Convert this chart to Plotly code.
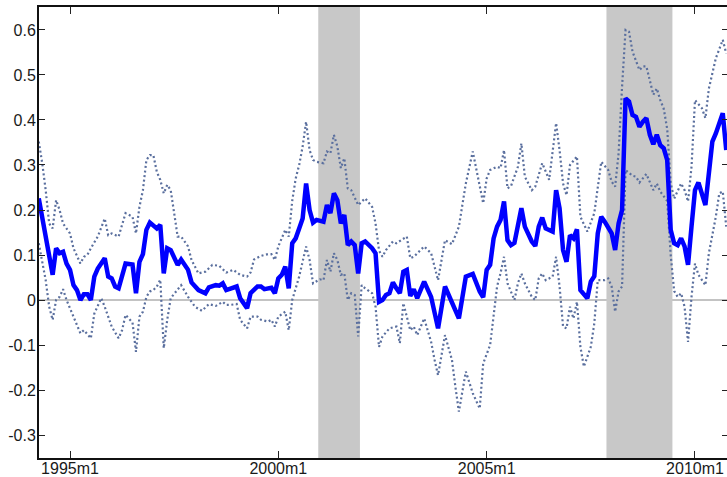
import plotly.graph_objects as go

# ---- data (Stata monthly index: months since 1960m1) ----
est_month = [411, 415, 416, 417, 418, 419, 420, 421, 422, 423, 424, 425, 426, 427, 428, 430, 431, 432, 433, 434,
             436, 438, 439, 440, 441, 442, 443, 445, 446, 447, 448, 449, 451, 452, 454, 455, 457, 459, 460, 462,
             463, 464, 465, 467, 468, 469, 471, 472, 474, 475, 476, 478, 479, 480, 481, 482, 483, 484, 485, 486,
             487, 488, 489, 490, 491, 493, 494, 495, 496, 497, 498, 499, 500, 501, 502, 503, 504, 505, 507, 508,
             509, 510, 511, 512, 513, 514, 515, 516, 517, 518, 519, 520, 522, 524, 525, 526, 528, 530, 532, 534,
             536, 538, 539, 540, 541, 542, 543, 544, 545, 546, 547, 548, 550, 551, 553, 554, 555, 556, 557, 559,
             560, 561, 562, 563, 564, 565, 566, 567, 569, 570, 571, 572, 573, 574, 576, 577, 578, 579, 580, 581,
             582, 583, 584, 585, 586, 587, 588, 589, 590, 591, 592, 593, 594, 595, 596, 597, 598, 599, 600, 601,
             603, 605, 606, 608, 609]
est_value = [0.226, 0.056, 0.115, 0.104, 0.107, 0.081, 0.067, 0.033, 0.022, 0.000, 0.013, 0.013, 0.000, 0.052, 0.070,
             0.093, 0.052, 0.048, 0.030, 0.026, 0.081, 0.079, 0.015, 0.085, 0.102, 0.156, 0.172, 0.159, 0.167, 0.059,
             0.115, 0.111, 0.078, 0.090, 0.067, 0.039, 0.022, 0.015, 0.028, 0.033, 0.032, 0.037, 0.022, 0.026, 0.030,
             0.004, -0.018, 0.015, 0.030, 0.030, 0.024, 0.027, 0.015, 0.048, 0.056, 0.074, 0.026, 0.126, 0.137, 0.159,
             0.181, 0.259, 0.200, 0.172, 0.178, 0.174, 0.211, 0.193, 0.237, 0.222, 0.170, 0.189, 0.122, 0.130, 0.122,
             0.059, 0.126, 0.130, 0.115, 0.104, -0.004, 0.000, 0.011, 0.015, 0.039, 0.026, 0.015, 0.063, 0.067, 0.009,
             0.024, 0.004, 0.041, 0.007, -0.026, -0.063, 0.030, -0.007, -0.041, 0.052, 0.058, 0.019, 0.006, 0.067,
             0.078, 0.137, 0.163, 0.178, 0.219, 0.133, 0.122, 0.127, 0.204, 0.163, 0.130, 0.120, 0.163, 0.183, 0.159,
             0.152, 0.244, 0.204, 0.111, 0.085, 0.144, 0.137, 0.157, 0.022, 0.004, 0.041, 0.053, 0.148, 0.185, 0.174,
             0.148, 0.111, 0.170, 0.200, 0.448, 0.441, 0.411, 0.407, 0.385, 0.396, 0.404, 0.367, 0.346, 0.367, 0.344,
             0.337, 0.311, 0.156, 0.126, 0.122, 0.137, 0.119, 0.078, 0.163, 0.244, 0.261, 0.211, 0.352, 0.370, 0.415,
             0.333]

up_month = [411, 412, 413, 414, 415, 416, 417, 418, 420, 421, 423, 424, 425, 426, 428, 430, 431, 432, 434, 436,
            438, 439, 440, 441, 442, 443, 444, 445, 446, 447, 448, 449, 450, 451, 452, 454, 455, 457, 459, 461,
            463, 465, 467, 469, 471, 472, 473, 475, 477, 478, 479, 480, 482, 483, 484, 485, 486, 487, 488, 489,
            490, 491, 493, 494, 495, 496, 497, 498, 499, 500, 501, 503, 505, 507, 508, 509, 510, 511, 513, 514,
            517, 518, 519, 522, 524, 526, 528, 530, 532, 534, 536, 537, 538, 539, 540, 541, 543, 544, 545, 546,
            547, 549, 550, 551, 553, 554, 556, 558, 560, 561, 562, 563, 564, 566, 567, 569, 571, 573, 575, 576,
            577, 578, 579, 580, 581, 582, 584, 585, 586, 588, 589, 590, 591, 592, 593, 594, 596, 597, 598, 599,
            600, 602, 603, 604, 606, 607, 608, 609]
up_value = [0.352, 0.304, 0.244, 0.170, 0.159, 0.222, 0.200, 0.170, 0.148, 0.115, 0.081, 0.096, 0.100, 0.115, 0.141,
            0.181, 0.144, 0.148, 0.141, 0.193, 0.185, 0.148, 0.207, 0.244, 0.311, 0.322, 0.322, 0.285, 0.267, 0.237,
            0.256, 0.244, 0.193, 0.141, 0.141, 0.119, 0.089, 0.059, 0.063, 0.078, 0.076, 0.061, 0.067, 0.056, 0.052,
            0.061, 0.090, 0.098, 0.102, 0.102, 0.089, 0.119, 0.156, 0.141, 0.220, 0.270, 0.300, 0.341, 0.396, 0.333,
            0.311, 0.307, 0.304, 0.330, 0.326, 0.367, 0.341, 0.293, 0.315, 0.248, 0.244, 0.211, 0.226, 0.207, 0.170,
            0.110, 0.096, 0.111, 0.130, 0.126, 0.141, 0.093, 0.096, 0.119, 0.104, 0.044, 0.133, 0.124, 0.163, 0.259,
            0.330, 0.290, 0.250, 0.215, 0.270, 0.289, 0.296, 0.293, 0.333, 0.248, 0.253, 0.296, 0.348, 0.274, 0.244,
            0.252, 0.304, 0.267, 0.393, 0.333, 0.259, 0.233, 0.300, 0.319, 0.185, 0.152, 0.193, 0.307, 0.289, 0.263,
            0.252, 0.326, 0.474, 0.600, 0.596, 0.552, 0.511, 0.519, 0.519, 0.456, 0.470, 0.444, 0.425, 0.380, 0.260,
            0.225, 0.259, 0.244, 0.219, 0.296, 0.444, 0.426, 0.404, 0.470, 0.537, 0.560, 0.578, 0.548]

lo_month = [411, 413, 414, 415, 416, 417, 418, 419, 421, 423, 424, 426, 427, 429, 430, 432, 434, 435, 436, 438,
            439, 440, 441, 442, 443, 444, 445, 446, 447, 448, 449, 451, 452, 454, 456, 458, 460, 462, 464, 465,
            466, 468, 469, 471, 472, 474, 475, 477, 478, 479, 480, 482, 483, 484, 486, 488, 489, 490, 492, 493,
            494, 495, 496, 497, 498, 499, 500, 501, 502, 503, 504, 505, 507, 508, 509, 510, 512, 514, 515, 516,
            518, 519, 520, 522, 524, 525, 526, 528, 530, 531, 532, 534, 536, 538, 539, 541, 542, 543, 544, 545,
            546, 548, 549, 550, 551, 553, 554, 555, 556, 557, 559, 560, 561, 562, 563, 564, 565, 566, 567, 568,
            570, 571, 572, 574, 575, 576, 577, 578, 579, 580, 582, 583, 584, 586, 588, 589, 590, 592, 593, 594,
            595, 596, 597, 598, 599, 600, 601, 603, 604, 606, 607, 608, 609]
lo_value = [0.126, 0.044, -0.015, -0.044, 0.000, 0.007, 0.024, 0.000, -0.037, -0.074, -0.067, -0.085, -0.030, 0.004,
            -0.015, -0.059, -0.085, -0.067, -0.033, -0.050, -0.115, -0.037, -0.026, 0.007, 0.019, 0.022, 0.030, 0.045,
            -0.107, -0.044, 0.004, 0.022, 0.033, 0.007, -0.015, -0.024, -0.009, -0.013, -0.004, -0.011, -0.011, -0.009,
            -0.044, -0.063, -0.037, -0.037, -0.044, -0.048, -0.044, -0.059, -0.037, -0.026, -0.067, 0.000, 0.052, 0.119,
            0.089, 0.037, 0.046, 0.044, 0.089, 0.063, 0.104, 0.089, 0.056, 0.059, 0.000, 0.015, 0.011, -0.081, 0.033,
            0.026, 0.015, -0.015, -0.104, -0.081, -0.063, -0.059, -0.096, -0.007, -0.067, -0.059, -0.078, -0.041,
            -0.093, -0.133, -0.167, -0.078, -0.133, -0.193, -0.248, -0.159, -0.207, -0.241, -0.141, -0.100, -0.040,
            0.030, 0.060, 0.096, 0.037, 0.000, 0.037, 0.059, 0.037, 0.007, 0.000, 0.048, 0.059, 0.044, 0.052, 0.096,
            0.030, -0.059, -0.063, -0.015, -0.041, -0.004, -0.104, -0.148, -0.104, -0.052, 0.044, 0.044, 0.048, 0.030,
            -0.026, 0.019, 0.030, 0.289, 0.276, 0.274, 0.261, 0.280, 0.244, 0.259, 0.241, 0.220, 0.100, 0.020, 0.007,
            0.015, -0.015, -0.093, 0.007, 0.081, 0.056, 0.033, 0.104, 0.185, 0.237, 0.241, 0.163]

recessions = [("2001m1", "2001m12"), ("2007m12", "2009m6")]
x_ticks = ["1995m1", "2000m1", "2005m1", "2010m1"]
y_ticks = [-0.3, -0.2, -0.1, 0, 0.1, 0.2, 0.3, 0.4, 0.5, 0.6]
y_labels = ["-0.3", "-0.2", "-0.1", "0", "0.1", "0.2", "0.3", "0.4", "0.5", "0.6"]


def tm(s):
    y, m = s.split("m")
    return (int(y) - 1960) * 12 + int(m) - 1


X_RANGE = [411.07, 609.22]
Y_RANGE = [-0.351, 0.651]
DOT_COLOR = "#5a6f9e"
FONT = dict(family="Liberation Sans, Arial, sans-serif", size=16, color="#1a1a1a")

fig = go.Figure()
fig.add_trace(go.Scatter(x=up_month, y=up_value, mode="lines",
                         line=dict(color=DOT_COLOR, width=2.2, dash="2px,2.6px"), hoverinfo="skip"))
fig.add_trace(go.Scatter(x=lo_month, y=lo_value, mode="lines",
                         line=dict(color=DOT_COLOR, width=2.2, dash="2px,2.6px"), hoverinfo="skip"))
fig.add_trace(go.Scatter(x=est_month, y=est_value, mode="lines", yaxis="y2",
                         line=dict(color="#0000ff", width=4.5), hoverinfo="skip"))

shapes = [dict(type="line", xref="paper", yref="y", x0=0, x1=1, y0=0, y1=0,
               line=dict(color="#c3c3c3", width=2), layer="below")]
for a, b in recessions:
    shapes.append(dict(type="rect", xref="x", yref="paper", x0=tm(a) - 0.5, x1=tm(b) + 0.5, y0=0, y1=1,
                       fillcolor="#c8c8c8", line=dict(width=0), layer="below"))

fig.update_layout(
    width=727, height=477,
    margin=dict(l=39, r=0, t=7, b=19, autoexpand=False),
    paper_bgcolor="white", plot_bgcolor="white",
    showlegend=False,
    font=FONT,
    shapes=shapes,
    xaxis=dict(range=X_RANGE, tickvals=[tm(t) for t in x_ticks], ticktext=x_ticks,
               ticks="inside", ticklen=7, tickwidth=1.2, tickcolor="#222",
               showline=True, linecolor="#111", linewidth=2, mirror="ticks",
               showgrid=False, zeroline=False, tickfont=FONT, automargin=False,
               ticklabelstandoff=-5),
    yaxis=dict(range=Y_RANGE, tickvals=y_ticks, ticktext=y_labels,
               ticks="inside", ticklen=6, tickwidth=1.2, tickcolor="#222",
               showline=True, linecolor="#111", linewidth=2,
               showgrid=False, zeroline=False, tickfont=FONT, automargin=False,
               ticklabelstandoff=-2),
    yaxis2=dict(range=Y_RANGE, overlaying="y", side="right", tickvals=y_ticks,
                ticks="inside", ticklen=5, tickwidth=1.2, tickcolor="#222",
                showticklabels=False, showline=False, showgrid=False, zeroline=False,
                automargin=False),
)

fig.write_html("out.html")
